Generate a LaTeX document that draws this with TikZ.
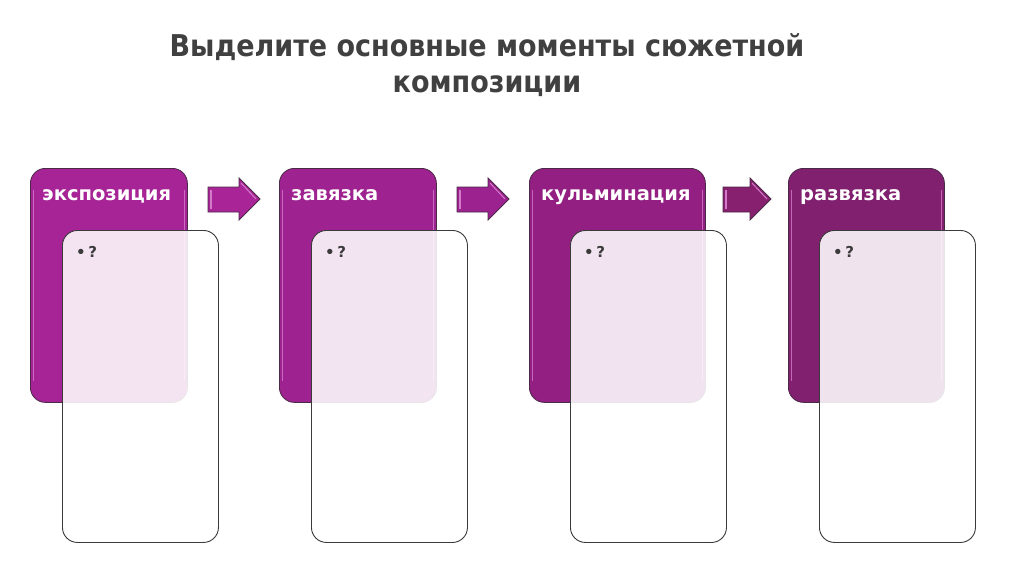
\documentclass[tikz,border=0pt]{standalone}
\usepackage{fontspec}
\setmainfont{DejaVu Sans}
\newfontfamily\titlefont{DejaVu Sans Condensed}[BoldFont={DejaVu Sans Condensed Bold}]
\usetikzlibrary{positioning}
\definecolor{titlegray}{HTML}{404040}
\definecolor{pA}{HTML}{A72496}
\definecolor{pB}{HTML}{9E2390}
\definecolor{pC}{HTML}{921F81}
\definecolor{pD}{HTML}{80206F}
\definecolor{aA}{HTML}{A92597}
\definecolor{aB}{HTML}{9C2290}
\definecolor{aC}{HTML}{87206F}
\definecolor{edgedark}{HTML}{4A2A46}
\definecolor{hilite}{HTML}{D47ACB}
\definecolor{boxline}{HTML}{3A3A3A}
\tikzset{
  x=1pt,y=-1pt,
  purplecard/.style={draw=edgedark, line width=0.8pt, rounded corners=15pt, anchor=north west, inner sep=0pt, minimum height=234pt},
  glass/.style={draw=boxline, line width=0.9pt, fill=white, fill opacity=0.88, rounded corners=15pt, anchor=north west, inner sep=0pt, minimum width=156pt, minimum height=312pt},
  cardlabel/.style={anchor=base west, text=white, font=\bfseries\fontsize{19.5}{22}\selectfont, inner sep=0pt},
  bullettext/.style={anchor=base west, text=boxline, font=\bfseries\fontsize{15}{17}\selectfont, inner sep=0pt, text opacity=1},
  titletext/.style={text=titlegray, font=\titlefont\bfseries\fontsize{30}{36}\selectfont, align=center, inner sep=0pt},
}
\newcommand{\blockarrowshape}[4]{% x0, headstart, tip, color
  \fill[#4, draw=edgedark, line width=0.8pt] (#1,187) -- (#2,187) -- (#2,178) -- (#3,199) -- (#2,220) -- (#2,212) -- (#1,212) -- cycle;
  \draw[hilite, line width=1.2pt] (#1+3,190) -- (#1+3,209);
  \draw[hilite, line width=1pt] (#2+2,183) -- (#3-4,199);
}
\begin{document}
\begin{tikzpicture}
\useasboundingbox (0,0) rectangle (1024,574);
\fill[white] (0,0) rectangle (1024,574);

% title
\node[titletext] (title) at (487,65) {Выделите основные моменты сюжетной\\композиции};

% purple cards
\node[purplecard, fill=pA, minimum width=157pt] (c1) at (30,168) {};
\node[purplecard, fill=pB, minimum width=157pt] (c2) at (279,168) {};
\node[purplecard, fill=pC, minimum width=176pt] (c3) at (529,168) {};
\node[purplecard, fill=pD, minimum width=156pt] (c4) at (788,168) {};

% inner highlights
\foreach \n in {c1,c2,c3,c4}{
  \draw[hilite, line width=1.2pt, opacity=0.8] ([shift={(3.5,22)}]\n.north west) -- ([shift={(3.5,-22)}]\n.south west);
  \draw[hilite, line width=1.2pt, opacity=0.8] ([shift={(-3.5,22)}]\n.north east) -- ([shift={(-3.5,-22)}]\n.south east);
}

% labels
\node[cardlabel] (l1) at (42,200) {экспозиция};
\node[cardlabel] (l2) at (291,200) {завязка};
\node[cardlabel] (l3) at (541,200) {кульминация};
\node[cardlabel] (l4) at (800,200) {развязка};

% arrows
\blockarrowshape{208}{239}{260}{aA}
\blockarrowshape{457}{488}{509}{aB}
\blockarrowshape{723}{750}{771}{aC}

% glass cards
\node[glass] (g1) at (62,230) {};
\node[glass] (g2) at (311,230) {};
\node[glass] (g3) at (570,230) {};
\node[glass] (g4) at (819,230) {};

\node[bullettext] (b1) at (76,257) {•\,?};
\node[bullettext] (b2) at (325,257) {•\,?};
\node[bullettext] (b3) at (584,257) {•\,?};
\node[bullettext] (b4) at (833,257) {•\,?};
\end{tikzpicture}
\end{document}
